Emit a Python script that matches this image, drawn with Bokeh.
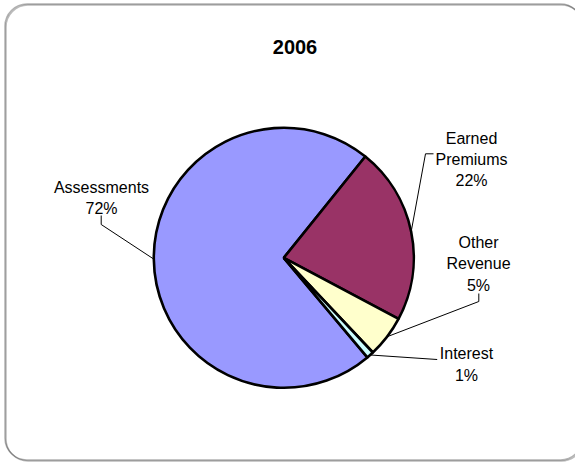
import math
from bokeh.plotting import figure
from bokeh.models import Range1d, BoxAnnotation, ColumnDataSource
from bokeh.core.properties import value
from bokeh.embed import file_html
from bokeh.resources import INLINE

# ---------------- data ----------------
title_text = "2006"
categories = ["Assessments", "Earned Premiums", "Other Revenue", "Interest"]
shares = [71.9, 22.0, 5.2, 0.9]

# ---------------- style / layout ----------------
colors = ["#9999FF", "#993366", "#FFFFCC", "#CCFFFF"]
W, H = 575, 462
FONT = "Liberation Sans"

def X(rx):  # reference pixel -> data
    return rx

def Y(ry):
    return H - ry

cx, cy, r = X(283.3), Y(257.3), 130.0
first_start_deg = -50.0  # Assessments starts here, slices run clockwise

# label anchors (center x, first baseline y) in reference pixels
label_pos = [(101, 186.5), (471, 137.5), (478, 242.0), (466, 353.2)]
line_gap = 21.3
# leader line elbows (reference pixels), end point on pie computed from data
leader_pts = [
    [(100.7, 215.0), (100.7, 224.0)],
    [(433.0, 153.3), (425.0, 153.3)],
    [(478.3, 293.0), (478.3, 301.0)],
    [(436.7, 359.0)],
]

p = figure(width=W, height=H, output_backend="svg", toolbar_location=None,
           x_range=Range1d(0, W), y_range=Range1d(0, H),
           x_axis_location=None, y_axis_location=None,
           min_border=0, outline_line_color=None,
           background_fill_color="white", border_fill_color="white")
p.grid.visible = False

# rounded frame (with slight shadow at the bottom)
p.add_layout(BoxAnnotation(left=X(5.5), right=X(583), top=Y(4.5), bottom=Y(460.5),
                           fill_color=None, line_color="#222222", line_width=1.5,
                           border_radius=22))
p.add_layout(BoxAnnotation(left=X(4.5), right=X(582), top=Y(3.5), bottom=Y(459.5),
                           fill_color=None, line_color="black", line_width=1.5,
                           border_radius=22))

total = sum(shares)
starts, ends, mids = [], [], []
acc = 0.0
for v in shares:
    s = math.radians(first_start_deg) - acc / total * 2 * math.pi
    e = s - v / total * 2 * math.pi
    starts.append(s)
    ends.append(e)
    mids.append((s + e) / 2)
    acc += v

src = ColumnDataSource(dict(cat=categories, start=ends, end=starts, color=colors))
p.wedge(x=cx, y=cy, radius=r, start_angle="start", end_angle="end",
        direction="anticlock", fill_color="color", line_color="black",
        line_width=2.6, source=src)

# leader lines
xs, ys = [], []
for pts, m in zip(leader_pts, mids):
    px = cx + r * math.cos(m)
    py = cy + r * math.sin(m)
    xs.append([X(a) for a, b in pts] + [px])
    ys.append([Y(b) for a, b in pts] + [py])
p.multi_line(xs=xs, ys=ys, line_color="black", line_width=1)

# labels
tx, ty, tt = [], [], []
for cat, v, (lx, ly) in zip(categories, shares, label_pos):
    lines = cat.split(" ") + [f"{round(v)}%"]
    for i, t in enumerate(lines):
        tx.append(X(lx))
        ty.append(Y(ly + i * line_gap))
        tt.append(t)
p.text(x=tx, y=ty, text=tt, text_font=value(FONT), text_font_size="16px",
       text_align="center", text_baseline="alphabetic", text_color="black")

p.text(x=[X(294.5)], y=[Y(46.5)], text=[title_text], text_font=value(FONT),
       text_font_size="20px", text_font_style="bold", text_align="center",
       text_baseline="alphabetic", text_color="black")

open("out.html", "w").write(file_html(p, INLINE))
